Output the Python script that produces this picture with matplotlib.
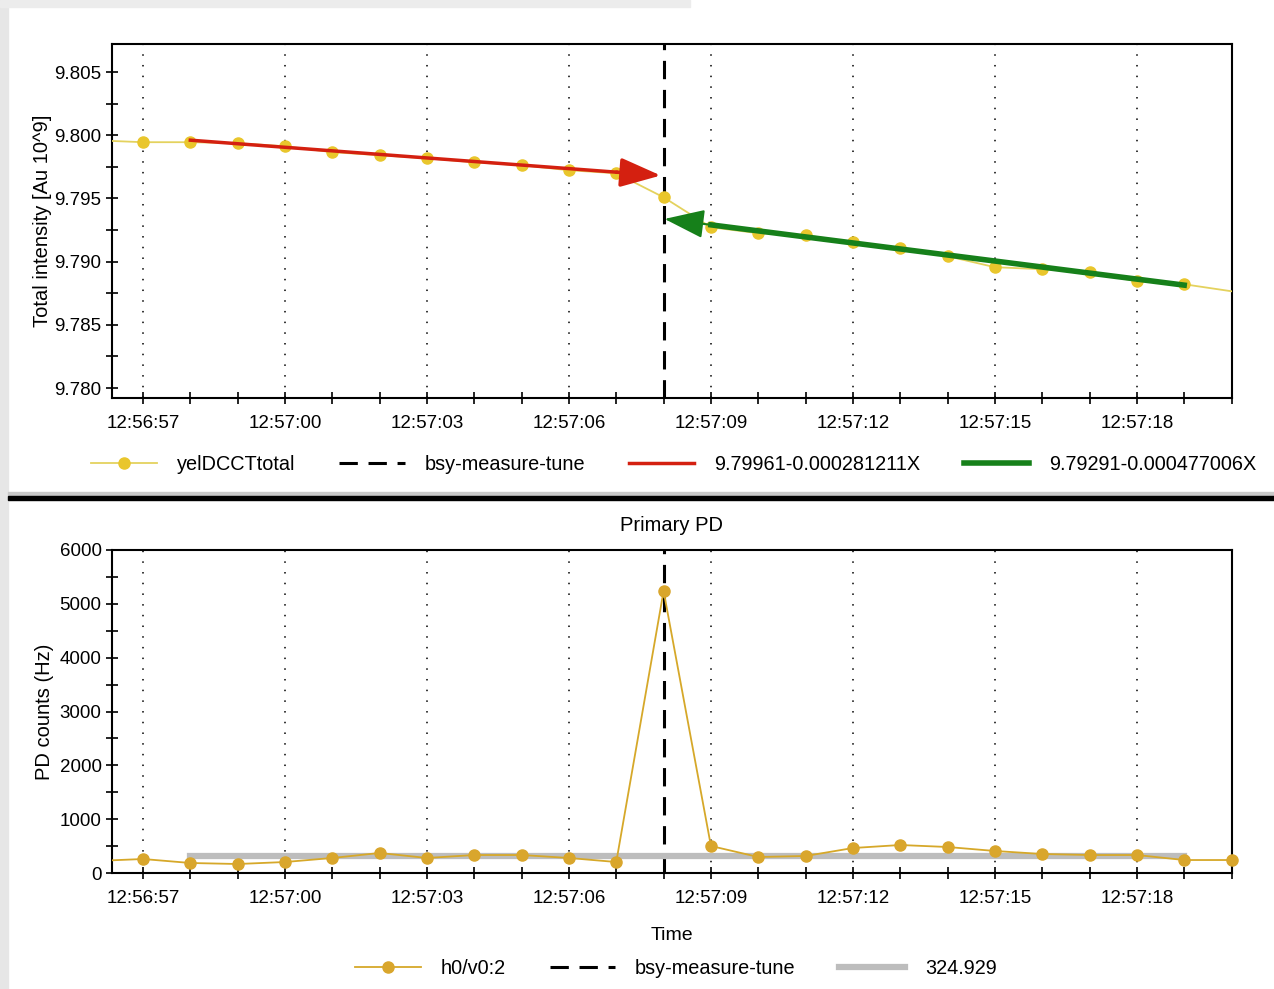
import matplotlib
matplotlib.use('Agg')
import matplotlib.pyplot as plt
from matplotlib.patches import FancyArrowPatch, Rectangle
from matplotlib.lines import Line2D
from matplotlib.ticker import MultipleLocator, FixedLocator
import numpy as np

plt.rcParams['font.family'] = ['Liberation Sans', 'DejaVu Sans']

# seconds after 12:56:57
t_top = [-1, 0, 1, 2, 3, 4, 5, 6, 7, 8, 9, 10, 11, 12, 13, 14, 15, 16, 17, 18, 19, 20, 21, 22, 24]
intensity = [9.7996, 9.79945, 9.79945, 9.79937, 9.79913, 9.79866, 9.79842, 9.79818, 9.79786,
             9.79763, 9.79723, 9.79699, 9.79509, 9.79272, 9.79225, 9.79209, 9.79153, 9.79106,
             9.79043, 9.78956, 9.78940, 9.78916, 9.78845, 9.78821, 9.7871]

t_pd = [-1, 0, 1, 2, 3, 4, 5, 6, 7, 8, 9, 10, 11, 12, 13, 14, 15, 16, 17, 18, 19, 20, 21, 22, 23]
pd_counts = [223, 260, 186, 167, 204, 279, 372, 279, 334, 334, 279, 204, 5239, 502, 297, 316,
             464, 520, 483, 409, 353, 334, 334, 241, 241]

# fits: value = a + b * X, X in seconds from the start of the fit
red_fit = (9.79961, -0.000281211, 1, 10)    # a, b, t_start, t_end
green_fit = (9.79291, -0.000477006, 12, 22)
tune_time = 11
pd_mean = 324.929
pd_mean_span = (1, 22)

tick_times = [0, 3, 6, 9, 12, 15, 18, 21]
tick_labels = ['12:56:57', '12:57:00', '12:57:03', '12:57:06', '12:57:09', '12:57:12', '12:57:15', '12:57:18']

fig = plt.figure(figsize=(12.74, 9.89), dpi=100)
W, H = 1274, 989

# screenshot frame bits
fig.patches.append(Rectangle((0, 0), 8 / W, 1, transform=fig.transFigure, color='#e6e6e6', zorder=0))
fig.patches.append(Rectangle((0, 1 - 7 / H), 690 / W, 7 / H, transform=fig.transFigure, color='#ececec', zorder=0))
fig.patches.append(Rectangle((8 / W, 1 - 495 / H), 1, 3 / H, transform=fig.transFigure, color='#c8c8c8', zorder=0))
fig.patches.append(Rectangle((8 / W, 1 - 500 / H), 1, 4 / H, transform=fig.transFigure, color='black', zorder=0))

ax1 = fig.add_axes([112 / W, 1 - 398 / H, 1120 / W, 354 / H])
ax2 = fig.add_axes([112 / W, 1 - 873 / H, 1120 / W, 323 / H])

yel_line = '#e4d25e'
yel_mark = '#e9c62c'
gold_line = '#d6a829'
gold_mark = '#d9a62c'
red = '#d42010'
green = '#16801a'
arrow_style = '-|>,head_length=25,head_width=9'


def style_axis(ax):
    ax.set_xlim(-0.655, 23.01)
    ax.xaxis.set_major_locator(FixedLocator(tick_times))
    ax.set_xticklabels(tick_labels)
    ax.xaxis.set_minor_locator(MultipleLocator(1))
    ax.tick_params(which='both', direction='inout', length=9, width=1.2, labelsize=13.5, pad=8)
    ax.tick_params(axis='y', pad=3)
    for s in ax.spines.values():
        s.set_linewidth(1.5)
    for t in tick_times:
        ax.axvline(t, color='black', lw=1.1, linestyle=(0, (1, 6)), zorder=1)
    ax.axvline(tune_time, color='black', lw=2.2, linestyle=(0, (6, 3.5)), zorder=2)


# top panel
style_axis(ax1)
ax1.plot(t_top, intensity, color=yel_line, lw=1.3, marker='o', ms=8, mfc=yel_mark, mec=yel_mark, zorder=3)
a, b, t0, t1 = red_fit
tr = np.array([t0, t1])
ax1.plot(tr, a + b * (tr - t0), color=red, lw=2.5, zorder=4)
ax1.add_patch(FancyArrowPatch((t1, a + b * (t1 - t0)), (tune_time - 0.06, a + b * (tune_time - 0.06 - t0)),
                              arrowstyle=arrow_style, color=red, lw=2.5,
                              shrinkA=0, shrinkB=0, zorder=5))
a, b, t0, t1 = green_fit
tg = np.array([t0, t1])
ax1.plot(tg, a + b * (tg - t0), color=green, lw=4, zorder=4)
ax1.add_patch(FancyArrowPatch((t0, a), (tune_time + 0.02, a + b * (tune_time + 0.02 - t0)),
                              arrowstyle=arrow_style, color=green, lw=1.5,
                              shrinkA=0, shrinkB=0, zorder=5))
ax1.set_ylim(9.77921, 9.80722)
ax1.set_yticks([9.780, 9.785, 9.790, 9.795, 9.800, 9.805])
ax1.set_yticklabels(['9.780', '9.785', '9.790', '9.795', '9.800', '9.805'])
ax1.yaxis.set_minor_locator(MultipleLocator(0.0025))
ax1.set_ylabel('Total intensity [Au 10^9]', fontsize=14.5, labelpad=2)

h1 = [Line2D([], [], color=yel_line, lw=1.3, marker='o', ms=8, mfc=yel_mark, mec=yel_mark),
      Line2D([], [], color='black', lw=2.2, linestyle=(0, (6, 3.5))),
      Line2D([], [], color=red, lw=2.5),
      Line2D([], [], color=green, lw=4)]
l1 = ['yelDCCTtotal', 'bsy-measure-tune', '9.79961-0.000281211X', '9.79291-0.000477006X']
fig.legend(h1, l1, loc='center', bbox_to_anchor=(674 / W, 1 - 464 / H), ncol=4, frameon=False,
           fontsize=14.3, handlelength=3.3, handletextpad=1.0, columnspacing=2.2, numpoints=1)

# bottom panel
style_axis(ax2)
ax2.plot(t_pd, pd_counts, color=gold_line, lw=1.3, zorder=3)
t_in = [t for t in t_pd if t >= 0]
pd_in = [v for t, v in zip(t_pd, pd_counts) if t >= 0]
ax2.plot(t_in, pd_in, linestyle='none', marker='o', ms=8, mfc=gold_mark, mec=gold_mark,
         zorder=3.5, clip_on=False)
ax2.plot(pd_mean_span, [pd_mean, pd_mean], color='#bdbdbd', lw=4.5, zorder=2.5)
ax2.set_ylim(0, 6000)
ax2.yaxis.set_major_locator(MultipleLocator(1000))
ax2.yaxis.set_minor_locator(MultipleLocator(500))
ax2.set_ylabel('PD counts (Hz)', fontsize=14.5, labelpad=4)
ax2.set_xlabel('Time', fontsize=14, labelpad=14)
ax2.set_title('Primary PD', fontsize=14.5, pad=14)

h2 = [Line2D([], [], color=gold_line, lw=1.3, marker='o', ms=8, mfc=gold_mark, mec=gold_mark),
      Line2D([], [], color='black', lw=2.2, linestyle=(0, (6, 3.5))),
      Line2D([], [], color='#bdbdbd', lw=4.5)]
l2 = ['h0/v0:2', 'bsy-measure-tune', '324.929']
fig.legend(h2, l2, loc='center', bbox_to_anchor=(676 / W, 1 - 968 / H), ncol=3, frameon=False,
           fontsize=14.3, handlelength=3.3, handletextpad=1.0, columnspacing=2.2, numpoints=1)

plt.savefig('out.png', dpi=100)
plt.close()
